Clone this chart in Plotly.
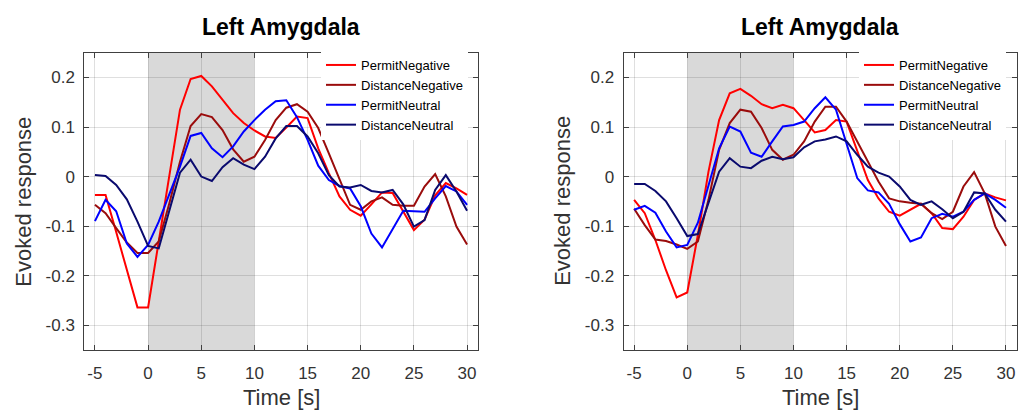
import plotly.graph_objects as go

# ---------------- data ----------------
time_s = [-5, -4, -3, -2, -1, 0, 1, 2, 3, 4, 5, 6, 7, 8, 9, 10, 11, 12, 13,
          14, 15, 16, 17, 18, 19, 20, 21, 22, 23, 24, 25, 26, 27, 28, 29, 30]

series_names = ["PermitNegative", "DistanceNegative", "PermitNeutral", "DistanceNeutral"]
series_colors = ["#ff0000", "#9a0c0c", "#0000ff", "#0a0a6e"]

left_permit_negative = [-0.037, -0.037, -0.112, -0.189, -0.264, -0.264, -0.129, 0.0, 0.135, 0.197,
                        0.203, 0.182, 0.156, 0.128, 0.108, 0.093, 0.081, 0.078, 0.099,
                        0.121, 0.118, 0.057, 0.007, -0.04, -0.067, -0.079, -0.056, -0.032, -0.033,
                        -0.072, -0.108, -0.087, -0.038, -0.013, -0.024, -0.037]
left_distance_negative = [-0.057, -0.074, -0.104, -0.133, -0.154, -0.154, -0.131, -0.054, 0.03, 0.102,
                          0.126, 0.12, 0.094, 0.055, 0.03, 0.04, 0.074, 0.114, 0.139,
                          0.146, 0.131, 0.098, 0.047, -0.007, -0.057, -0.067, -0.05, -0.042, -0.057,
                          -0.059, -0.059, -0.02, 0.005, -0.04, -0.101, -0.137]
left_permit_neutral = [-0.09, -0.047, -0.07, -0.135, -0.162, -0.138, -0.091, -0.037, 0.02, 0.082,
                       0.088, 0.057, 0.039, 0.061, 0.091, 0.114, 0.135, 0.152, 0.154,
                       0.12, 0.074, 0.022, -0.007, -0.019, -0.024, -0.06, -0.115, -0.143, -0.106,
                       -0.069, -0.07, -0.071, -0.044, -0.019, -0.03, -0.057]
left_distance_neutral = [0.003, 0.001, -0.017, -0.046, -0.091, -0.14, -0.145, -0.067, 0.008, 0.034,
                         0.0, -0.009, 0.019, 0.037, 0.024, 0.015, 0.04, 0.077, 0.102,
                         0.102, 0.081, 0.047, 0.003, -0.02, -0.022, -0.017, -0.029, -0.032, -0.027,
                         -0.056, -0.101, -0.088, -0.027, 0.003, -0.03, -0.069]

right_permit_negative = [-0.047, -0.074, -0.128, -0.189, -0.244, -0.234, -0.118, 0.01, 0.114, 0.168,
                         0.177, 0.163, 0.146, 0.138, 0.145, 0.138, 0.114, 0.089, 0.094,
                         0.114, 0.111, 0.054, -0.007, -0.044, -0.071, -0.079, -0.067, -0.055, -0.074,
                         -0.104, -0.106, -0.081, -0.047, -0.034, -0.042, -0.048]
right_distance_negative = [-0.065, -0.098, -0.127, -0.13, -0.137, -0.146, -0.131, -0.047, 0.054, 0.108,
                           0.135, 0.131, 0.098, 0.054, 0.034, 0.044, 0.071, 0.111, 0.141,
                           0.141, 0.111, 0.071, 0.03, -0.01, -0.044, -0.05, -0.053, -0.055, -0.074,
                           -0.086, -0.071, -0.02, 0.009, -0.034, -0.101, -0.14]
right_permit_neutral = [-0.067, -0.059, -0.073, -0.111, -0.143, -0.138, -0.093, -0.017, 0.057, 0.101,
                        0.091, 0.048, 0.04, 0.071, 0.101, 0.104, 0.111, 0.138, 0.16,
                        0.135, 0.064, -0.003, -0.028, -0.032, -0.055, -0.096, -0.131, -0.123, -0.084,
                        -0.075, -0.081, -0.071, -0.047, -0.034, -0.047, -0.063]
right_distance_neutral = [-0.015, -0.015, -0.029, -0.05, -0.084, -0.12, -0.116, -0.054, 0.01, 0.037,
                          0.02, 0.017, 0.032, 0.04, 0.035, 0.039, 0.059, 0.071, 0.075,
                          0.081, 0.071, 0.044, 0.02, 0.008, 0.0, -0.02, -0.047, -0.057, -0.05,
                          -0.066, -0.084, -0.071, -0.032, -0.034, -0.067, -0.091]

stim_window = [0, 10]

panel_titles = ["Left Amygdala", "Left Amygdala"]
x_label = "Time [s]"
y_label = "Evoked response"

x_tickvals = [-5, 0, 5, 10, 15, 20, 25, 30]
x_ticktext = ["-5", "0", "5", "10", "15", "20", "25", "30"]
y_tickvals = [-0.3, -0.2, -0.1, 0, 0.1, 0.2]
y_ticktext = ["-0.3", "-0.2", "-0.1", "0", "0.1", "0.2"]

# ---------------- figure ----------------
W, H = 1027, 412
FONT = "Liberation Sans, Arial, Helvetica, sans-serif"
TXT = "#333333"

left_data = [left_permit_negative, left_distance_negative, left_permit_neutral, left_distance_neutral]
right_data = [right_permit_negative, right_distance_negative, right_permit_neutral, right_distance_neutral]

fig = go.Figure()
for panel, (data, xa, ya, lg) in enumerate([(left_data, "x", "y", "legend"),
                                            (right_data, "x2", "y2", "legend2")]):
    for name, col, vals in zip(series_names, series_colors, data):
        fig.add_trace(go.Scatter(x=time_s, y=vals, mode="lines", name=name,
                                 line=dict(color=col, width=2),
                                 xaxis=xa, yaxis=ya, legend=lg))

def px_x(p):
    return p / W

def px_y(p):
    return (H - p) / H

x1_dom = [px_x(84.3), px_x(477.7)]
x2_dom = [px_x(623.5), px_x(1016.6)]
y_dom = [px_y(350), px_y(52.7)]

axis_common = dict(showline=True, linecolor="#404040", linewidth=1, mirror="ticks",
                   ticks="inside", ticklen=5, tickcolor="#404040", tickwidth=1,
                   showgrid=True, gridcolor="rgba(38,38,38,0.15)", gridwidth=1,
                   zeroline=False, tickfont=dict(family=FONT, size=17, color=TXT))

xaxis_cfg = dict(axis_common, range=[-6, 31], tickmode="array",
                 tickvals=x_tickvals, ticktext=x_ticktext, ticklabelstandoff=8)
yaxis_cfg = dict(axis_common, range=[-0.35, 0.25], tickmode="array",
                 tickvals=y_tickvals, ticktext=y_ticktext, ticklabelstandoff=5)

fig.update_layout(
    width=W, height=H,
    margin=dict(l=0, r=0, t=0, b=0),
    paper_bgcolor="white", plot_bgcolor="white",
    xaxis=dict(xaxis_cfg, domain=x1_dom, anchor="y"),
    yaxis=dict(yaxis_cfg, domain=y_dom, anchor="x"),
    xaxis2=dict(xaxis_cfg, domain=x2_dom, anchor="y2"),
    yaxis2=dict(yaxis_cfg, domain=y_dom, anchor="x2"),
    legend=dict(x=px_x(321), y=px_y(50), xanchor="left", yanchor="top",
                bgcolor="white", borderwidth=0,
                font=dict(family=FONT, size=13, color="#000000")),
    legend2=dict(x=px_x(859), y=px_y(50), xanchor="left", yanchor="top",
                 bgcolor="white", borderwidth=0,
                 font=dict(family=FONT, size=13, color="#000000")),
    showlegend=True,
)

# stimulus window shading
for xr, yr in [("x", "y"), ("x2", "y2")]:
    fig.add_shape(type="rect", xref=xr, yref=yr + " domain",
                  x0=stim_window[0], x1=stim_window[1], y0=0, y1=1,
                  fillcolor="#d9d9d9", line=dict(width=0), layer="below")

# titles and axis labels
for dom, title in zip([x1_dom, x2_dom], panel_titles):
    cx = (dom[0] + dom[1]) / 2
    fig.add_annotation(text="<b>%s</b>" % title, x=cx, y=px_y(27), xref="paper", yref="paper",
                       xanchor="center", yanchor="middle", showarrow=False,
                       font=dict(family=FONT, size=23, color="#000000"))
    fig.add_annotation(text=x_label, x=cx, y=px_y(397), xref="paper", yref="paper",
                       xanchor="center", yanchor="middle", showarrow=False,
                       font=dict(family=FONT, size=22, color=TXT))
    fig.add_annotation(text=y_label, x=dom[0] - px_x(61), y=(y_dom[0] + y_dom[1]) / 2,
                       xref="paper", yref="paper", xanchor="center", yanchor="middle",
                       textangle=-90, showarrow=False,
                       font=dict(family=FONT, size=22, color=TXT))

fig.write_html("out.html")
